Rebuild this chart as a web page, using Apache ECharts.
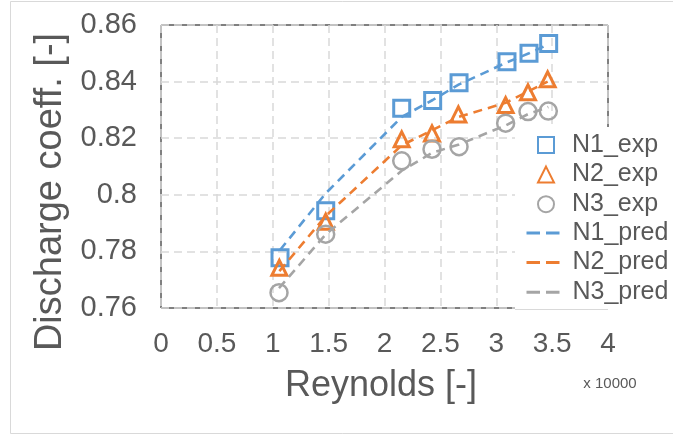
<!DOCTYPE html>
<html>
<head>
<meta charset="utf-8">
<script src="https://cdn.jsdelivr.net/npm/echarts@6/dist/echarts.min.js"></script>
<style>
html,body{margin:0;padding:0;background:#fff;}
#c{width:673px;height:436px;}
</style>
</head>
<body>
<div id="c"></div>
<script>
// Reynolds number (x 10000)
const reN1 = [1.065, 1.474, 2.154, 2.431, 2.667, 3.096, 3.293, 3.469];
const reN2 = [1.059, 1.474, 2.154, 2.425, 2.661, 3.084, 3.284, 3.460];
const reN3 = [1.056, 1.474, 2.154, 2.425, 2.667, 3.084, 3.284, 3.466];
// Experimental discharge coefficients
const n1Exp = [0.7778, 0.7944, 0.8306, 0.8333, 0.8396, 0.8470, 0.8500, 0.8535];
const n2Exp = [0.7742, 0.7905, 0.8196, 0.8217, 0.8284, 0.8317, 0.8362, 0.8408];
const n3Exp = [0.7654, 0.7861, 0.8120, 0.8161, 0.8170, 0.8253, 0.8294, 0.8296];
// Predicted discharge coefficients
const n1Pred = [0.7805, 0.8005, 0.8275, 0.8335, 0.8390, 0.8468, 0.8500, 0.8532];
const n2Pred = [0.7730, 0.7925, 0.8175, 0.8228, 0.8275, 0.8325, 0.8365, 0.8400];
const n3Pred = [0.7670, 0.7860, 0.8085, 0.8148, 0.8178, 0.8245, 0.8285, 0.8310];
const xTicks = [0, 0.5, 1, 1.5, 2, 2.5, 3, 3.5, 4];
const yTicks = [0.76, 0.78, 0.8, 0.82, 0.84, 0.86];

const BLUE = '#5B9BD5', ORANGE = '#ED7D31', GRAY = '#A5A5A5';
const FONT = '"Liberation Sans", Arial, sans-serif';
const TXT = '#595959';

function pairs(xs, ys){ return xs.map((x,i)=>[x, ys[i]]); }

const chart = echarts.init(document.getElementById('c'), null, {renderer:'canvas'});

function scatter(name, xs, ys, color, symbol, size, bw){
  return {name, type:'scatter', data:pairs(xs,ys), symbol, symbolSize:size,
    itemStyle:{color:'rgba(255,255,255,0)', borderColor:color, borderWidth:bw, opacity:1}, z:2};
}
function line(name, xs, ys, color){
  return {name, type:'line', data:pairs(xs,ys), symbol:'none', showSymbol:false,
    lineStyle:{color, width:2.6, type:[9,6]}, itemStyle:{color}, z:3};
}

chart.setOption({
  animation:false,
  backgroundColor:'#fff',
  grid:{left:161, top:25, right:65, bottom:128, show:true, borderColor:'#000', borderWidth:1, backgroundColor:'transparent'},
  xAxis:{type:'value', min:xTicks[0], max:xTicks[xTicks.length-1], interval:0.5,
    axisLine:{show:false}, axisTick:{show:false},
    axisLabel:{color:TXT, fontSize:28, fontFamily:FONT, margin:22},
    splitLine:{show:true, lineStyle:{color:'#d9d9d9', width:1.5, type:[8,5]}}},
  yAxis:{type:'value', min:yTicks[0], max:yTicks[yTicks.length-1], interval:0.02,
    axisLine:{show:false}, axisTick:{show:false},
    axisLabel:{color:TXT, fontSize:29, fontFamily:FONT, margin:24},
    splitLine:{show:true, lineStyle:{color:'#d9d9d9', width:1.5, type:[8,5]}}},
  legend:[
    {orient:'vertical', left:537, top:132, padding:0, itemWidth:16, itemHeight:16, itemGap:3.6,
     data:['N1_exp','N2_exp','N3_exp'],
     textStyle:{color:TXT, fontSize:25, fontFamily:FONT, lineHeight:26, padding:[0,0,0,13]}},
    {orient:'vertical', left:525, top:220, padding:0, itemWidth:33, itemHeight:16, itemGap:3.6,
     data:['N1_pred','N2_pred','N3_pred'],
     itemStyle:{opacity:0},
     lineStyle:{width:3, type:[13.5,6]},
     textStyle:{color:TXT, fontSize:25, fontFamily:FONT, lineHeight:26, padding:[0,0,0,8]}}
  ],
  graphic:[
    {type:'rect', silent:true, z:-1, shape:{x:10.5, y:1.5, width:700, height:432}, style:{fill:'none', stroke:'#d9d9d9', lineWidth:1}},
    {type:'rect', silent:true, z:3, shape:{x:515, y:127, width:170, height:182}, style:{fill:'#fff'}},
    {type:'line', silent:true, z:3, shape:{x1:515, y1:309.5, x2:608, y2:309.5}, style:{stroke:'#d9d9d9', lineWidth:1}},
    {type:'text', silent:true, x:50.5, y:192, rotation:Math.PI/2,
     style:{text:'Discharge coeff. [-]', fontSize:38, fontFamily:FONT, fill:TXT, align:'center', verticalAlign:'middle'}},
    {type:'text', silent:true, x:381, y:386,
     style:{text:'Reynolds [-]', fontSize:36, fontFamily:FONT, fill:TXT, align:'center', verticalAlign:'middle'}},
    {type:'text', silent:true, x:610, y:384,
     style:{text:'x 10000', fontSize:15, fontFamily:FONT, fill:TXT, align:'center', verticalAlign:'middle'}}
  ],
  series:[
    scatter('N1_exp', reN1, n1Exp, BLUE, 'rect', 16, 3),
    scatter('N2_exp', reN2, n2Exp, ORANGE, 'triangle', 15, 3),
    scatter('N3_exp', reN3, n3Exp, GRAY, 'circle', 17, 2.5),
    line('N1_pred', reN1, n1Pred, BLUE),
    line('N2_pred', reN2, n2Pred, ORANGE),
    line('N3_pred', reN3, n3Pred, GRAY)
  ]
});
</script>
</body>
</html>
